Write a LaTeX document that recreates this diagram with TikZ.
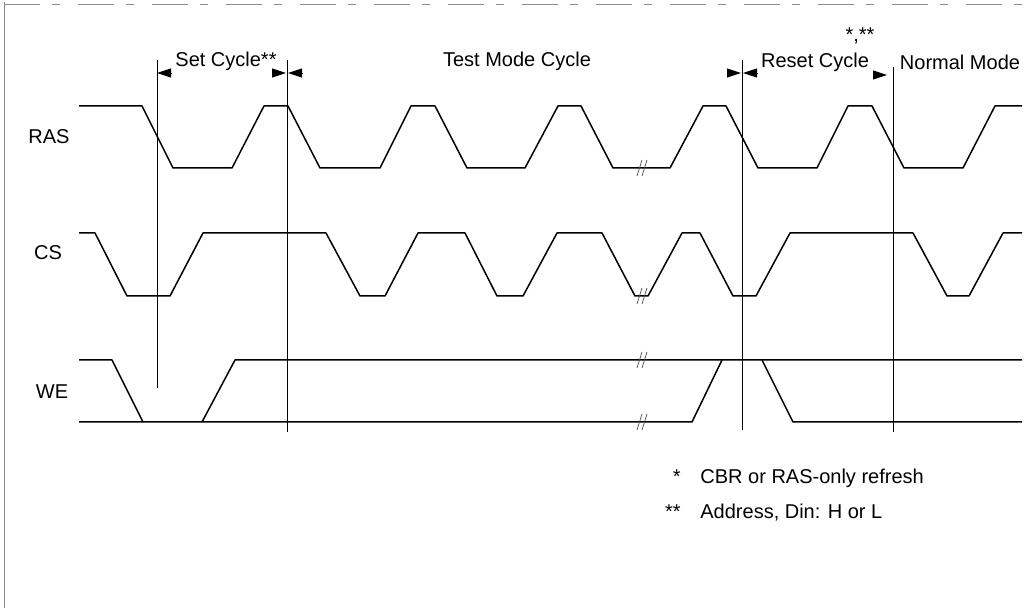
\documentclass[tikz,border=0pt]{standalone}
\usepackage{fontspec}
\setmainfont{Liberation Sans}
\usetikzlibrary{arrows.meta}
\tikzset{
  sig/.style={line width=0.75pt, line join=round},
  guide/.style={line width=0.45pt},
  cyctip/.style={-{Triangle[length=7pt,width=4.5pt]}, line width=0.45pt},
  brk/.style={line width=0.35pt, black!70},
  lbl/.style={inner sep=0pt, font=\fontsize{10}{12}\selectfont},
  scan/.style={line width=0.4pt, black!45},
}
\begin{document}
\begin{tikzpicture}[x=0.5pt,y=-0.5pt]
\useasboundingbox (0,0) rectangle (1033,613);
\draw[scan] (4,2) -- (4,608);
\draw[scan, dash pattern=on 18pt off 6pt on 4pt off 9pt] (4,4) -- (1030,4);
\node[lbl] (ras) at (49,137) {RAS};
\node[lbl] (cs) at (48,253) {CS};
\node[lbl] (we) at (52,392) {WE};
\coordinate (v1t) at (157,60);  \coordinate (v1b) at (157,388);
\coordinate (v2t) at (287,60);  \coordinate (v2b) at (287,432);
\coordinate (v3t) at (742,60);  \coordinate (v3b) at (742,430);
\coordinate (v4t) at (893,67);  \coordinate (v4b) at (893,432);
\draw[guide] (v1t) -- (v1b);
\draw[guide] (v2t) -- (v2b);
\draw[guide] (v3t) -- (v3b);
\draw[guide] (v4t) -- (v4b);
\coordinate (a1) at (172,73); \coordinate (a1e) at (157,73);
\coordinate (a2) at (272,73); \coordinate (a2e) at (286,73);
\coordinate (a3) at (302,73); \coordinate (a3e) at (288,73);
\coordinate (a4) at (727,73); \coordinate (a4e) at (741,73);
\coordinate (a5) at (757,73); \coordinate (a5e) at (743,73);
\coordinate (a6) at (873,75); \coordinate (a6e) at (887,75);
\draw[cyctip] (a1) -- (a1e);
\draw[cyctip] (a2) -- (a2e);
\draw[cyctip] (a3) -- (a3e);
\draw[cyctip] (a4) -- (a4e);
\draw[cyctip] (a5) -- (a5e);
\draw[cyctip] (a6) -- (a6e);
\node[lbl] (setcyc) at (226,61) {Set Cycle**};
\node[lbl] (testcyc) at (517,61) {Test Mode Cycle};
\node[lbl] (rstcyc) at (815,62) {Reset Cycle};
\node[lbl] (normal) at (960,62) {Normal Mode};
\node[lbl, anchor=base] (rstnote) at (860,42) {*,**};
\draw[sig] (79,106) -- (142,106) -- (173,168) -- (232,168) -- (264,106) -- (288,106) -- (320,168) -- (380,168) -- (411,106) -- (435,106) -- (467,168) -- (525,168) -- (558,106) -- (581,106) -- (613,168) -- (670,168) -- (703,106) -- (726,106) -- (758,168) -- (817,168) -- (848,106) -- (872,106) -- (904,168) -- (963,168) -- (995,106) -- (1022,106);
\draw[sig] (79,233) -- (95,233) -- (127,296) -- (170,296) -- (203,233) -- (326,233) -- (360,296) -- (385,296) -- (418,233) -- (465,233) -- (497,296) -- (523,296) -- (557,233) -- (602,233) -- (635,296) -- (648,296) -- (682,233) -- (700,233) -- (733,296) -- (756,296) -- (790,233) -- (913,233) -- (947,296) -- (969,296) -- (1003,233) -- (1022,233);
\draw[sig] (79,360) -- (112,360) -- (143,422);
\draw[sig] (202,422) -- (235,360) -- (1022,360);
\draw[sig] (79,422) -- (692,422) -- (722,360);
\draw[sig] (762,360) -- (793,422) -- (1022,422);
\foreach \yy in {168,296,360,422} {
  \draw[brk] (637,\yy+8) -- (642,\yy-8);
  \draw[brk] (642,\yy+8) -- (647,\yy-8);
}
\node[lbl, anchor=base east] (st1) at (681,484) {*};
\node[lbl, anchor=base west] (note1) at (700,484) {CBR or RAS-only refresh};
\node[lbl, anchor=base east] (st2) at (681,519) {**};
\node[lbl, anchor=base west] (note2) at (700,519) {Address, Din: H or L};
\end{tikzpicture}
\end{document}
